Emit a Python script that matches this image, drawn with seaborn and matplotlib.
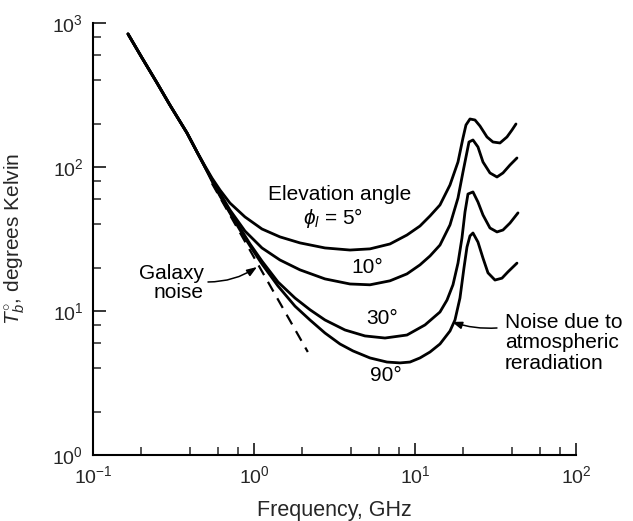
import numpy as np
import pandas as pd
import matplotlib
matplotlib.use("Agg")
import matplotlib.pyplot as plt
import seaborn as sns
from matplotlib.ticker import LogLocator, NullFormatter, FixedLocator, FixedFormatter

sns.set_style("ticks")
plt.rcParams["font.family"] = ["Liberation Sans", "DejaVu Sans"]
plt.rcParams["mathtext.fontset"] = "custom"
plt.rcParams["mathtext.rm"] = "Liberation Sans"
plt.rcParams["mathtext.it"] = "Liberation Sans:italic"
plt.rcParams["mathtext.bf"] = "Liberation Sans:bold"

# ---- data (frequency in GHz, brightness temperature in K) ----
common_f = [0.165, 0.20, 0.25, 0.30, 0.384, 0.443]
common_T = [839, 581, 383, 270, 172, 127]

f5 = [0.496, 0.548, 0.615, 0.709, 0.879, 1.121, 1.450, 1.931, 2.761, 3.948, 5.254, 6.994,
      8.919, 10.74, 12.40, 14.30, 16.50, 18.50, 19.87, 20.74, 21.96, 23.59, 25.33, 28.01,
      30.51, 33.73, 37.28, 40.05, 42.40]
T5 = [101.6, 83.9, 69.2, 56.2, 45.0, 37.1, 32.7, 29.7, 27.4, 26.5, 27.0, 29.2,
      33.7, 38.9, 45.7, 54.5, 75.0, 108.3, 159.0, 195.7, 215.4, 212.0, 192.6, 161.6,
      149.1, 146.8, 161.6, 180.6, 198.9]

f10 = [0.496, 0.548, 0.615, 0.709, 0.879, 1.121, 1.450, 1.931, 2.761, 3.948, 5.254, 6.994,
       8.919, 10.74, 12.40, 14.30, 16.50, 18.50, 19.87, 21.04, 21.65, 22.92, 24.62, 26.45,
       29.23, 32.31, 35.21, 38.92, 43.01]
T10 = [100.0, 82.5, 66.0, 50.3, 35.9, 27.4, 22.6, 19.3, 16.7, 15.4, 15.2, 16.2,
       18.1, 20.9, 24.1, 28.7, 39.6, 60.9, 92.3, 127.1, 149.1, 154.0, 137.7, 108.3,
       90.9, 85.2, 90.9, 103.2, 115.5]

f30 = [0.496, 0.548, 0.615, 0.709, 0.819, 0.945, 1.121, 1.410, 1.798, 2.228, 2.761, 3.675,
       4.891, 6.512, 8.919, 11.54, 14.30, 15.81, 17.22, 18.50, 19.58, 20.45, 21.34, 22.92,
       24.62, 26.45, 29.23, 32.31, 35.21, 38.92, 43.64]
T30 = [100.0, 81.2, 63.9, 48.7, 37.7, 29.2, 22.2, 15.9, 12.3, 10.2, 8.66, 7.38,
       6.71, 6.49, 6.81, 8.00, 9.84, 11.9, 15.2, 21.5, 32.1, 48.7, 64.9, 67.1,
       57.1, 46.4, 37.7, 35.4, 36.5, 40.8, 48.0]

f90 = [0.496, 0.548, 0.615, 0.709, 0.819, 0.945, 1.121, 1.410, 1.798, 2.228, 2.761, 3.421,
       4.120, 5.254, 6.701, 8.069, 9.309, 10.74, 12.40, 14.30, 16.50, 17.72, 19.03, 20.15,
       21.04, 21.96, 22.92, 24.62, 26.45, 28.41, 31.40, 34.71, 37.82, 43.01]
T90 = [100.0, 80.0, 62.9, 47.9, 36.5, 28.3, 21.2, 14.9, 10.8, 8.66, 7.03, 5.90,
       5.28, 4.72, 4.42, 4.36, 4.42, 4.72, 5.19, 5.90, 7.26, 8.66, 12.3, 19.9,
       27.8, 33.2, 34.8, 30.1, 23.3, 18.4, 16.4, 16.9, 18.7, 21.5]

galaxy_f = [0.548, 2.16]
galaxy_T = [77.0, 5.19]

angles = ["5°", "10°", "30°", "90°"]
xticks = [0.1, 1, 10, 100]
xticklabels = [r"$10^{-1}$", r"$10^{0}$", r"$10^{1}$", r"$10^{2}$"]
yticks = [1, 10, 100, 1000]
yticklabels = [r"$10^{0}$", r"$10^{1}$", r"$10^{2}$", r"$10^{3}$"]

rows = []
for name, fs, ts in zip(angles, [f5, f10, f30, f90], [T5, T10, T30, T90]):
    for f, t in zip(common_f + fs, common_T + ts):
        rows.append({"angle": name, "freq": f, "T": t})
df = pd.DataFrame(rows)
gal = pd.DataFrame({"freq": galaxy_f, "T": galaxy_T})

fig = plt.figure(figsize=(6.33, 5.21), dpi=100)
ax = fig.add_axes([0.1469, 0.1267, 0.7630, 0.8292])

sns.lineplot(data=gal, x="freq", y="T", color="black", linewidth=1.6,
             linestyle=(0, (5, 3.5)), ax=ax)
sns.lineplot(data=df, x="freq", y="T", hue="angle", units="angle", estimator=None,
             palette=["black"] * 4, legend=False, linewidth=2.0, ax=ax, sort=True)
for ln in ax.lines[1:]:
    ln.set_solid_joinstyle("round")
    ln.set_solid_capstyle("round")

ax.set_xscale("log")
ax.set_yscale("log")
ax.set_xlim(0.1, 100)
ax.set_ylim(1, 1000)

ax.xaxis.set_major_locator(FixedLocator(xticks))
ax.xaxis.set_major_formatter(FixedFormatter(xticklabels))
ax.yaxis.set_major_locator(FixedLocator(yticks))
ax.yaxis.set_major_formatter(FixedFormatter(yticklabels))
ax.xaxis.set_minor_locator(LogLocator(base=10, subs=[2, 4, 6, 8]))
ax.yaxis.set_minor_locator(LogLocator(base=10, subs=[2, 4, 6, 8]))
ax.xaxis.set_minor_formatter(NullFormatter())
ax.yaxis.set_minor_formatter(NullFormatter())

ax.tick_params(which="major", direction="in", length=9, width=1.3, labelsize=14, pad=7)
ax.tick_params(which="minor", direction="in", length=5.5, width=1.1)
sns.despine(ax=ax)
for s in ["left", "bottom"]:
    ax.spines[s].set_linewidth(1.5)
    ax.spines[s].set_color("black")

ax.set_xlabel("Frequency, GHz", fontsize=15.5)
ax.set_ylabel(r"$T^{\circ}_{b}$, degrees Kelvin", fontsize=15)
ax.xaxis.set_label_coords(0.5, -0.104)
ax.yaxis.set_label_coords(-0.137, 0.5)

tkw = dict(fontsize=15, color="black")
ax.text(3.42, 63.9, "Elevation angle", ha="center", va="center", **tkw)
ax.text(3.09, 44.3, r"$\phi_l$ = 5°", ha="center", va="center", **tkw)
ax.text(5.03, 19.9, "10°", ha="center", va="center", **tkw)
ax.text(6.23, 8.93, "30°", ha="center", va="center", **tkw)
ax.text(6.61, 3.54, "90°", ha="center", va="center", **tkw)
ax.text(0.489, 15.6, "Galaxy\nnoise", ha="right", va="center", multialignment="right",
        linespacing=1.0, **tkw)
ax.text(36.2, 6.0, "Noise due to\natmospheric\nreradiation", ha="left", va="center",
        linespacing=1.08, **tkw)

ax.annotate("", xy=(1.044, 20.2), xytext=(0.518, 15.9),
            arrowprops=dict(arrowstyle="-|>,head_length=0.6,head_width=0.22", color="black",
                            lw=1.1, connectionstyle="arc3,rad=0.15", shrinkA=0, shrinkB=0))
ax.annotate("", xy=(16.98, 8.4), xytext=(32.3, 7.62),
            arrowprops=dict(arrowstyle="-|>,head_length=0.6,head_width=0.22", color="black",
                            lw=1.1, connectionstyle="arc3,rad=-0.1", shrinkA=0, shrinkB=0))

fig.savefig("out.png", dpi=100)
